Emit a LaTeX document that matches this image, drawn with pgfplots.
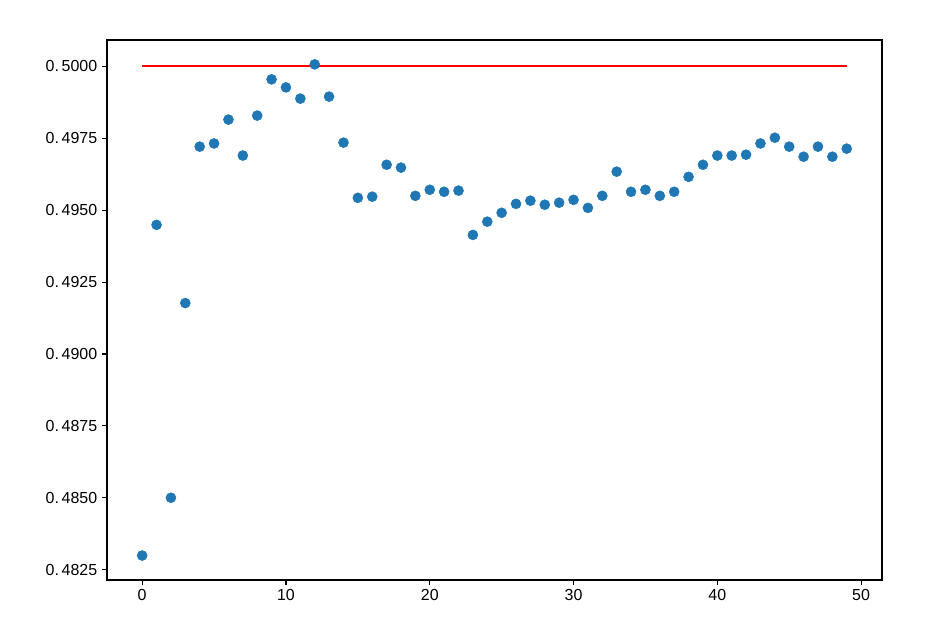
\documentclass[border=0pt]{standalone}
\usepackage{pgfplots}
\pgfplotsset{compat=1.18}
\usepackage{fontspec}
\setmainfont{Liberation Sans}
\definecolor{mplblue}{HTML}{1F77B4}
\begin{document}
\begin{tikzpicture}
\begin{axis}[
  scale only axis,
  width=558pt, height=388.8pt,
  xmin=-2.45, xmax=51.45,
  ymin=0.48214, ymax=0.50092,
  xtick={0,10,20,30,40,50},
  ytick={0.4825,0.485,0.4875,0.49,0.4925,0.495,0.4975,0.5},
  yticklabels={0.\,4825,0.\,4850,0.\,4875,0.\,4900,0.\,4925,0.\,4950,0.\,4975,0.\,5000},
  scaled y ticks=false,
  /pgf/number format/assume math mode=true,
  tick align=outside,
  tick pos=left,
  major tick length=3.5pt,
  tick style={black, line width=0.8pt},
  axis line style={line width=0.8pt},
  tick label style={font=\fontsize{11.5}{13}\selectfont},
  clip=false,
]
\addplot[red, line width=1.5pt] coordinates {(0,0.5) (49,0.5)};
\addplot[only marks, mark=*, mark size=3.6pt, mark options={fill=mplblue, draw=mplblue}] coordinates {
(0,0.48299) (1,0.49449) (2,0.48500) (3,0.49177) (4,0.49721) (5,0.49732)
(6,0.49815) (7,0.49690) (8,0.49829) (9,0.49955) (10,0.49927) (11,0.49888)
(12,0.50007) (13,0.49895) (14,0.49735) (15,0.49543) (16,0.49547) (17,0.49658)
(18,0.49648) (19,0.49550) (20,0.49571) (21,0.49564) (22,0.49568) (23,0.49414)
(24,0.49460) (25,0.49491) (26,0.49522) (27,0.49533) (28,0.49519) (29,0.49526)
(30,0.49536) (31,0.49508) (32,0.49550) (33,0.49634) (34,0.49564) (35,0.49571)
(36,0.49550) (37,0.49564) (38,0.49616) (39,0.49658) (40,0.49690) (41,0.49690)
(42,0.49693) (43,0.49732) (44,0.49752) (45,0.49721) (46,0.49686) (47,0.49721)
(48,0.49686) (49,0.49714)
};
\path (rel axis cs:-0.138,-0.1148) rectangle (rel axis cs:1.0865,1.074);
\end{axis}
\end{tikzpicture}
\end{document}
